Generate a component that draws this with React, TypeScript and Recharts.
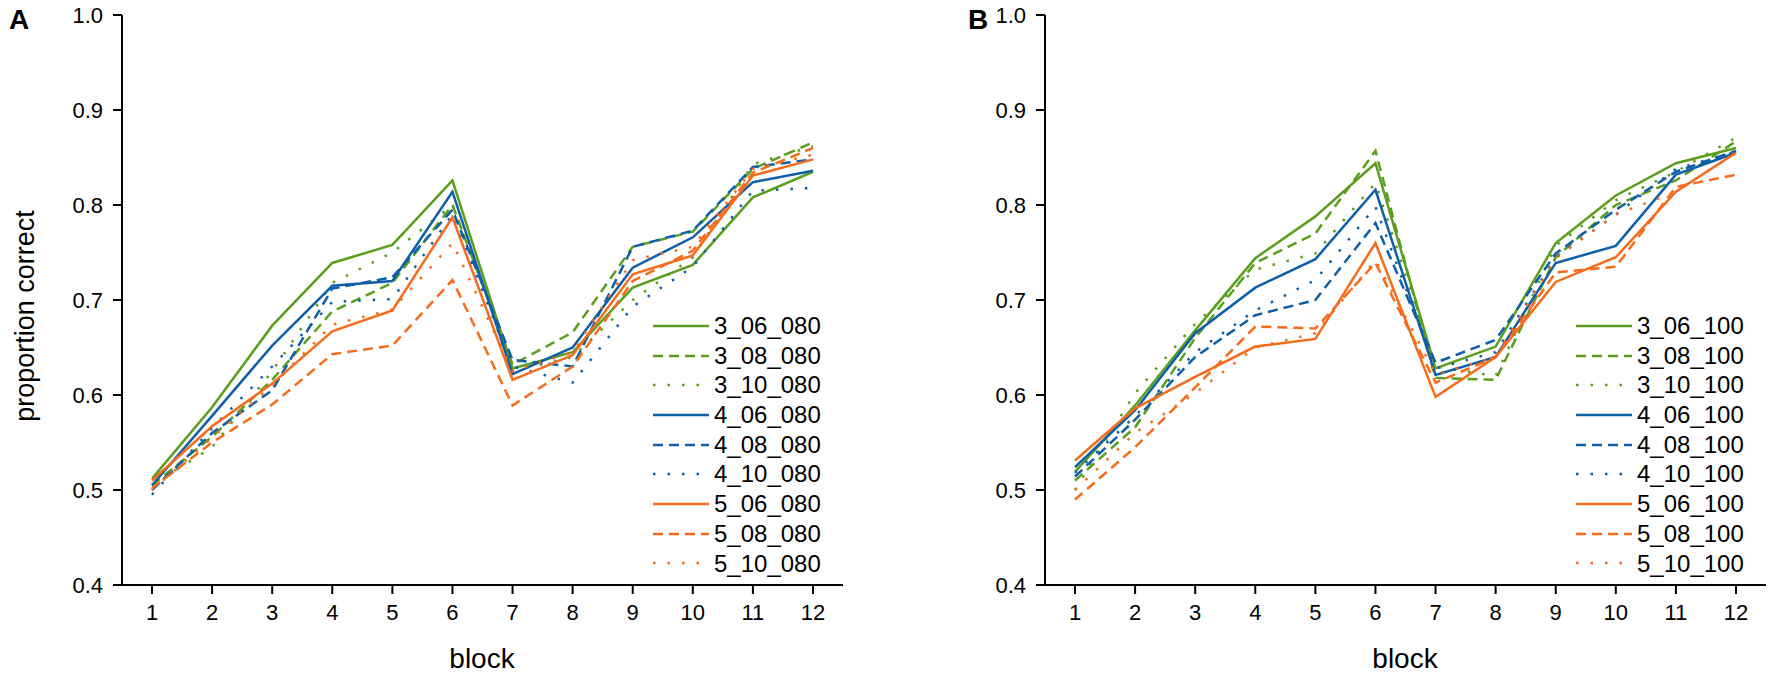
import { LineChart, Line, XAxis, YAxis, Label } from "recharts";

const blocks = [1, 2, 3, 4, 5, 6, 7, 8, 9, 10, 11, 12];
const yTicks = [0.4, 0.5, 0.6, 0.7, 0.8, 0.9, 1.0];

// panel A (…_080)
const a306 = [0.512, 0.587, 0.673, 0.739, 0.758, 0.826, 0.628, 0.645, 0.713, 0.737, 0.808, 0.835];
const a308 = [0.505, 0.556, 0.616, 0.688, 0.718, 0.8, 0.632, 0.666, 0.756, 0.772, 0.838, 0.866];
const a310 = [0.505, 0.545, 0.625, 0.718, 0.75, 0.8, 0.625, 0.64, 0.7, 0.745, 0.843, 0.862];
const a406 = [0.505, 0.578, 0.652, 0.715, 0.72, 0.814, 0.622, 0.65, 0.734, 0.766, 0.824, 0.836];
const a408 = [0.5, 0.56, 0.605, 0.712, 0.724, 0.795, 0.637, 0.63, 0.756, 0.773, 0.84, 0.848];
const a410 = [0.495, 0.565, 0.63, 0.698, 0.701, 0.79, 0.63, 0.613, 0.693, 0.735, 0.815, 0.818];
const a506 = [0.51, 0.567, 0.612, 0.667, 0.689, 0.787, 0.616, 0.642, 0.727, 0.747, 0.831, 0.848];
const a508 = [0.502, 0.55, 0.59, 0.643, 0.652, 0.721, 0.589, 0.63, 0.72, 0.752, 0.834, 0.86];
const a510 = [0.5, 0.555, 0.61, 0.674, 0.69, 0.76, 0.625, 0.645, 0.742, 0.756, 0.838, 0.853];

// panel B (…_100)
const b306 = [0.519, 0.589, 0.668, 0.744, 0.788, 0.844, 0.628, 0.651, 0.76, 0.81, 0.844, 0.86];
const b308 = [0.51, 0.566, 0.66, 0.739, 0.77, 0.857, 0.618, 0.616, 0.745, 0.8, 0.826, 0.867];
const b310 = [0.5, 0.602, 0.675, 0.732, 0.749, 0.823, 0.63, 0.62, 0.757, 0.805, 0.835, 0.871];
const b406 = [0.524, 0.584, 0.665, 0.713, 0.743, 0.816, 0.621, 0.64, 0.739, 0.757, 0.832, 0.855];
const b408 = [0.514, 0.574, 0.64, 0.684, 0.7, 0.781, 0.634, 0.658, 0.749, 0.795, 0.835, 0.857];
const b410 = [0.518, 0.578, 0.645, 0.689, 0.721, 0.798, 0.628, 0.645, 0.745, 0.79, 0.838, 0.856];
const b506 = [0.531, 0.586, 0.619, 0.651, 0.659, 0.76, 0.598, 0.64, 0.719, 0.745, 0.814, 0.855];
const b508 = [0.49, 0.545, 0.608, 0.672, 0.67, 0.739, 0.613, 0.64, 0.729, 0.735, 0.819, 0.832];
const b510 = [0.5, 0.56, 0.602, 0.65, 0.665, 0.742, 0.622, 0.64, 0.744, 0.79, 0.814, 0.855];

const GREEN = "#5a9e1e";
const BLUE = "#0f5fa8";
const ORANGE = "#f76b1c";
const SOLID = undefined;
const DASH = "10 6";
const DOT = "2.5 12";

const FONT = "'Liberation Sans', Arial, sans-serif";

type Series = { key: string; values: number[]; color: string; dash?: string };

const seriesA: Series[] = [
  { key: "3_06_080", values: a306, color: GREEN, dash: SOLID },
  { key: "3_08_080", values: a308, color: GREEN, dash: DASH },
  { key: "3_10_080", values: a310, color: GREEN, dash: DOT },
  { key: "4_06_080", values: a406, color: BLUE, dash: SOLID },
  { key: "4_08_080", values: a408, color: BLUE, dash: DASH },
  { key: "4_10_080", values: a410, color: BLUE, dash: DOT },
  { key: "5_06_080", values: a506, color: ORANGE, dash: SOLID },
  { key: "5_08_080", values: a508, color: ORANGE, dash: DASH },
  { key: "5_10_080", values: a510, color: ORANGE, dash: DOT },
];

const seriesB: Series[] = [
  { key: "3_06_100", values: b306, color: GREEN, dash: SOLID },
  { key: "3_08_100", values: b308, color: GREEN, dash: DASH },
  { key: "3_10_100", values: b310, color: GREEN, dash: DOT },
  { key: "4_06_100", values: b406, color: BLUE, dash: SOLID },
  { key: "4_08_100", values: b408, color: BLUE, dash: DASH },
  { key: "4_10_100", values: b410, color: BLUE, dash: DOT },
  { key: "5_06_100", values: b506, color: ORANGE, dash: SOLID },
  { key: "5_08_100", values: b508, color: ORANGE, dash: DASH },
  { key: "5_10_100", values: b510, color: ORANGE, dash: DOT },
];

function buildRows(series: Series[]) {
  return blocks.map((b, i) => {
    const row: Record<string, number> = { block: b };
    series.forEach((s) => {
      row[s.key] = s.values[i];
    });
    return row;
  });
}

function LegendBox({ series }: { series: Series[] }) {
  return (
    <div style={{ position: "absolute", left: 653, top: 311, fontFamily: FONT, fontSize: 24, color: "#000" }}>
      {series.map((s) => (
        <div key={s.key} style={{ display: "flex", alignItems: "center", height: 29.7 }}>
          <svg width={58} height={6} style={{ marginRight: 3 }}>
            <line x1={0} y1={3} x2={56} y2={3} stroke={s.color} strokeWidth={2.5} strokeDasharray={s.dash} />
          </svg>
          <span style={{ lineHeight: "29.7px" }}>{s.key}</span>
        </div>
      ))}
    </div>
  );
}

function Panel({ series, showYLabel }: { series: Series[]; showYLabel: boolean }) {
  const rows = buildRows(series);
  const axisStyle = { stroke: "#000", strokeWidth: 2 };
  return (
    <LineChart width={849} height={674} data={rows} margin={{ top: 15, right: 6, bottom: 29, left: 0 }}>
      <XAxis
        dataKey="block"
        type="number"
        domain={[1, 12]}
        ticks={blocks}
        padding={{ left: 30, right: 30 }}
        height={60}
        tickSize={9}
        tickMargin={10}
        axisLine={axisStyle}
        tickLine={axisStyle}
        tick={{ fontSize: 22, fill: "#000", fontFamily: FONT }}
      >
        <Label
          content={() => (
            <text x={482} y={668} textAnchor="middle" fontSize={28} fontFamily={FONT} fill="#000">
              block
            </text>
          )}
        />
      </XAxis>
      <YAxis
        type="number"
        domain={[0.4, 1.0]}
        ticks={yTicks}
        width={122}
        tickSize={9}
        tickMargin={10}
        axisLine={axisStyle}
        tickLine={axisStyle}
        tickFormatter={(v: number) => v.toFixed(1)}
        tick={{ fontSize: 22, fill: "#000", fontFamily: FONT }}
      >
        {showYLabel && (
          <Label
            content={() => (
              <text
                x={34}
                y={316}
                textAnchor="middle"
                fontSize={27}
                fontFamily={FONT}
                fill="#000"
                transform="rotate(-90 34 316)"
              >
                proportion correct
              </text>
            )}
          />
        )}
      </YAxis>
      {series.map((s) => (
        <Line
          key={s.key}
          dataKey={s.key}
          type="linear"
          stroke={s.color}
          strokeWidth={2.5}
          strokeDasharray={s.dash}
          dot={false}
          activeDot={false}
          isAnimationActive={false}
        />
      ))}
    </LineChart>
  );
}

export default function App() {
  return (
    <div style={{ position: "absolute", left: 0, top: 0, width: 1772, height: 674, background: "#fff", overflow: "hidden" }}>
      <div style={{ position: "absolute", left: 0, top: 0, width: 849, height: 674 }}>
        <Panel series={seriesA} showYLabel={true} />
        <LegendBox series={seriesA} />
      </div>
      <div style={{ position: "absolute", left: 923, top: 0, width: 849, height: 674 }}>
        <Panel series={seriesB} showYLabel={false} />
        <LegendBox series={seriesB} />
      </div>
      <div style={{ position: "absolute", left: 9, top: 4, fontFamily: FONT, fontWeight: "bold", fontSize: 28 }}>A</div>
      <div style={{ position: "absolute", left: 968, top: 4, fontFamily: FONT, fontWeight: "bold", fontSize: 28 }}>B</div>
    </div>
  );
}
